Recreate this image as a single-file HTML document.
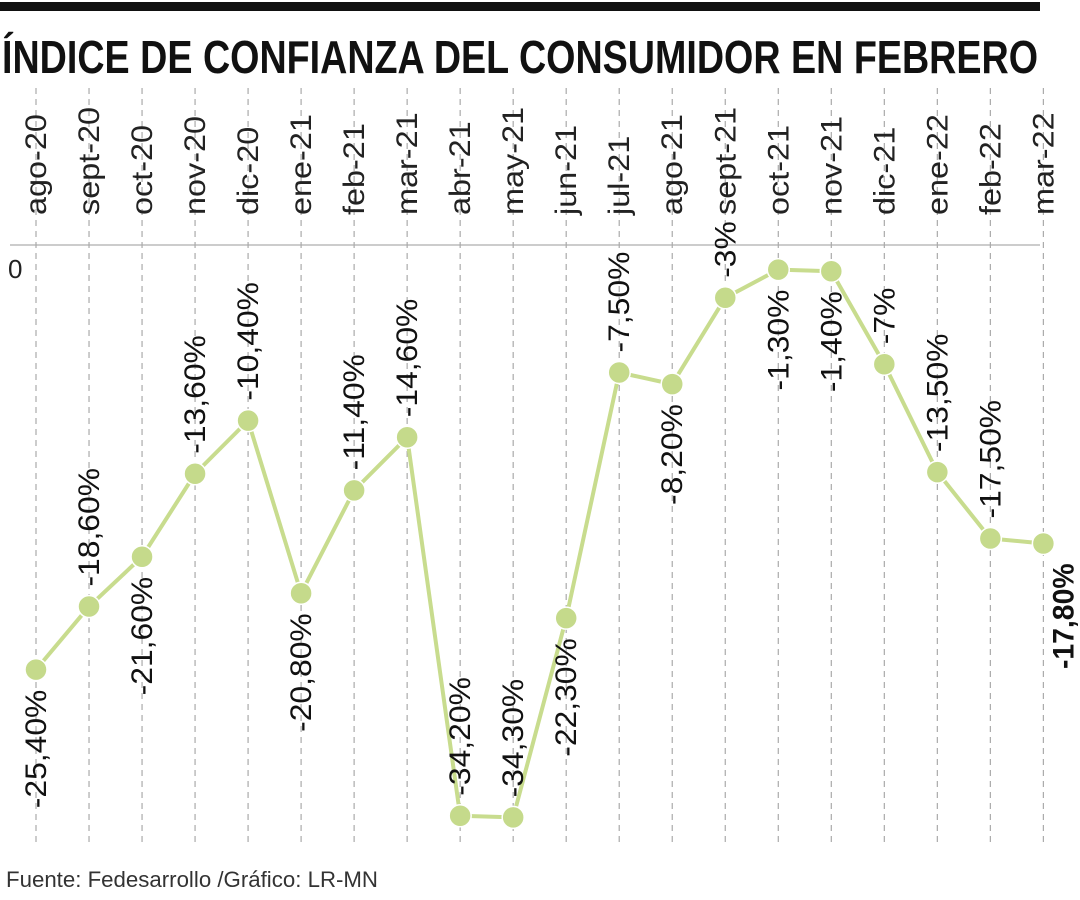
<!DOCTYPE html>
<html><head><meta charset="utf-8"><style>
html,body{margin:0;padding:0;background:#fff;}
svg{display:block;font-family:"Liberation Sans",sans-serif;}
</style></head><body>
<svg id="chart" width="1080" height="900" viewBox="0 0 1080 900">
<rect x="0" y="2" width="1040" height="9" fill="#111"/>
<text x="2" y="73" font-size="46" font-weight="bold" fill="#111" textLength="1036" lengthAdjust="spacingAndGlyphs" style="font-family:'Liberation Sans Narrow','Liberation Sans',sans-serif">ÍNDICE DE CONFIANZA DEL CONSUMIDOR EN FEBRERO</text>
<line x1="10" y1="245" x2="1040" y2="245" stroke="#bbb" stroke-width="1.5"/>
<text x="8" y="278" font-size="26" fill="#222">0</text>
<g id="grid"></g><g id="xlabels"></g><g id="series"></g><g id="vlabels"></g>
<text x="6" y="887" font-size="22" fill="#333" textLength="372" lengthAdjust="spacingAndGlyphs">Fuente: Fedesarrollo /Gráfico: LR-MN</text>
</svg>
<script>
const categories=["ago-20","sept-20","oct-20","nov-20","dic-20","ene-21","feb-21","mar-21","abr-21","may-21","jun-21","jul-21","ago-21","sept-21","oct-21","nov-21","dic-21","ene-22","feb-22","mar-22"];
const values=[-25.4,-21.6,-18.6,-13.6,-10.4,-20.8,-14.6,-11.4,-34.2,-34.3,-22.3,-7.5,-8.2,-3,-1.3,-1.4,-7,-13.5,-17.5,-17.8];
const labels=["-25,40%","-18,60%","-21,60%","-13,60%","-10,40%","-20,80%","-11,40%","-14,60%","-34,20%","-34,30%","-22,30%","-7,50%","-8,20%","-3%","-1,30%","-1,40%","-7%","-13,50%","-17,50%","-17,80%"];
const labelSide=["below","above","below","above","above","below","above","above","above","above","below","above","below","above","below","below","above","above","above","below"];
const NS="http://www.w3.org/2000/svg";
const xPos=i=>36+i*53.02;
const yPos=v=>248-v*16.6;
function mk(tag,attrs,parent){const e=document.createElementNS(NS,tag);for(const k in attrs)e.setAttribute(k,attrs[k]);parent.appendChild(e);return e;}
const grid=document.getElementById('grid'),xl=document.getElementById('xlabels'),se=document.getElementById('series'),vl=document.getElementById('vlabels');
categories.forEach((c,i)=>{
  const x=xPos(i);
  const g=mk('line',{x1:x,y1:88,x2:x,y2:845,stroke:'#aaa','stroke-width':1.2,'stroke-dasharray':'6,5'},grid);
  
  
  const t=mk('text',{x:0,y:0,'font-size':27,fill:'#222','text-anchor':'start',transform:`translate(${x+10},215) rotate(-90) scale(1.2,1.08)`},xl);
  t.textContent=c;
  
  
});
const pts=values.map((v,i)=>xPos(i)+','+yPos(v)).join(' ');
const pl=mk('polyline',{points:pts,fill:'none',stroke:'#c8dc8e','stroke-width':4,'stroke-linejoin':'round'},se);


values.forEach((v,i)=>{
  const x=xPos(i),y=yPos(v);
  const c=mk('circle',{cx:x,cy:y,r:11,fill:'#c5da8b',stroke:'#fff','stroke-width':1.5},se);
  
  
  const above=labelSide[i]==='above';
  const ty=above?y-20:y+20;
  const t=mk('text',{x:0,y:0,'font-size':27,fill:'#111','text-anchor':above?'start':'end',transform:`translate(${x+10},${ty}) rotate(-90) scale(1.18,1.1)`},vl);
  if(i===values.length-1){t.setAttribute('font-weight','bold');t.setAttribute('transform',`translate(${x+30},${ty}) rotate(-90) scale(1.05,1.1)`);}
  t.textContent=labels[i];
  
  
});
</script>
</body></html>
